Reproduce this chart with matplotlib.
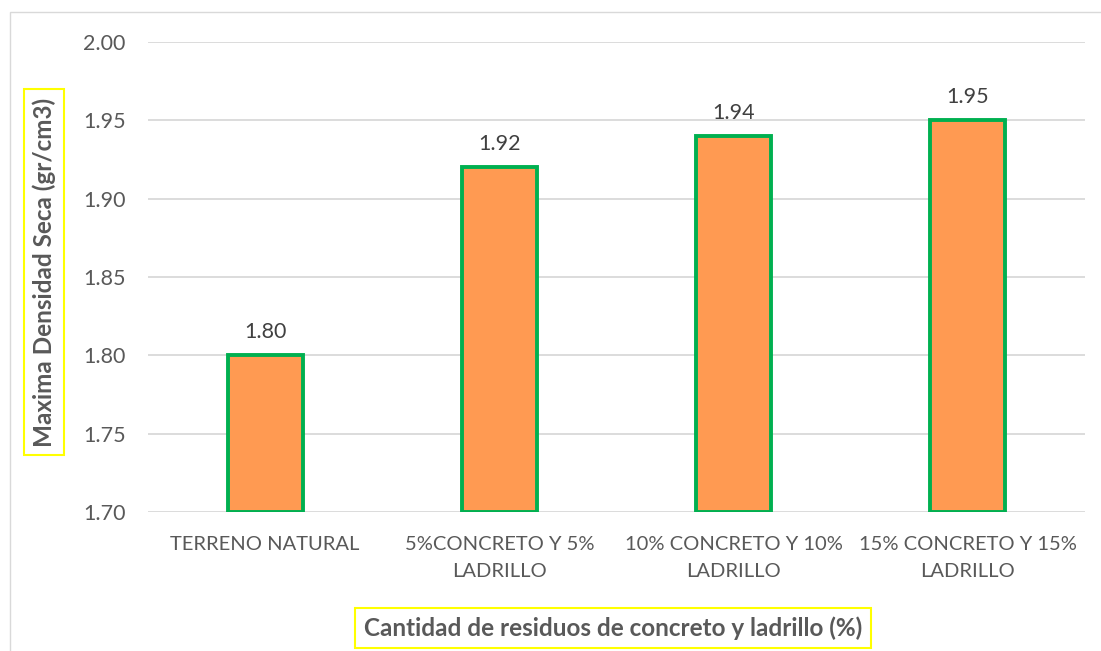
import numpy as np
import matplotlib.pyplot as plt
from matplotlib.patches import Rectangle

categories = ["TERRENO NATURAL", "5%CONCRETO Y 5%\nLADRILLO",
              "10% CONCRETO Y 10%\nLADRILLO", "15% CONCRETO Y 15%\nLADRILLO"]
densidad = [1.80, 1.92, 1.94, 1.95]
yticks = [1.70, 1.75, 1.80, 1.85, 1.90, 1.95, 2.00]

plt.rcParams['font.family'] = ['Lato', 'DejaVu Sans']
txt = '#595959'

fig = plt.figure(figsize=(11.01, 6.51), dpi=100)
ax = fig.add_axes([148 / 1101, 1 - 512 / 651, 937 / 1101, 470 / 651])

x = np.arange(len(categories))
ax.bar(x, [d - 1.70 for d in densidad], bottom=1.70, width=0.32,
       color='#FF9A52', edgecolor='#00B050', linewidth=2.8, zorder=3)
for xi, d in zip(x, densidad):
    ax.text(xi, d + 0.011, f"{d:.2f}", ha='center', va='baseline',
            fontsize=15.5, color='#404040')

ax.set_xlim(-0.5, len(categories) - 0.5)
ax.set_ylim(1.70, 2.00)
ax.set_yticks(yticks)
ax.set_yticklabels([f"{t:.2f}" for t in yticks], fontsize=15.5, color=txt)
ax.set_xticks(x)
ax.set_xticklabels(categories, fontsize=14.5, color=txt, linespacing=1.75)
ax.tick_params(length=0, axis='y', pad=16)
ax.tick_params(length=0, axis='x', pad=17)
ax.grid(axis='y', color='#D9D9D9', linewidth=1.3, zorder=0)
for s in ax.spines.values():
    s.set_visible(False)

# axis titles in yellow boxes
fig.text(44 / 1101, 1 - 272 / 651, "Maxima Densidad Seca (gr/cm3)", rotation=90,
         ha='center', va='center', fontsize=17.5, fontweight='bold', color=txt,
         bbox=dict(boxstyle='square,pad=0.35', facecolor='white', edgecolor='#FFFF00', linewidth=1.5))
fig.text(613 / 1101, 1 - 628 / 651, "Cantidad de residuos de concreto y ladrillo (%)",
         ha='center', va='center', fontsize=17.5, fontweight='bold', color=txt,
         bbox=dict(boxstyle='square,pad=0.35', facecolor='white', edgecolor='#FFFF00', linewidth=1.5))

# chart frame
fig.add_artist(Rectangle((10 / 1101, -0.1), 1.2, 1 - 12 / 651 + 0.1, transform=fig.transFigure,
                         fill=False, edgecolor='#D9D9D9', linewidth=1))

fig.savefig("out.png", dpi=100)
